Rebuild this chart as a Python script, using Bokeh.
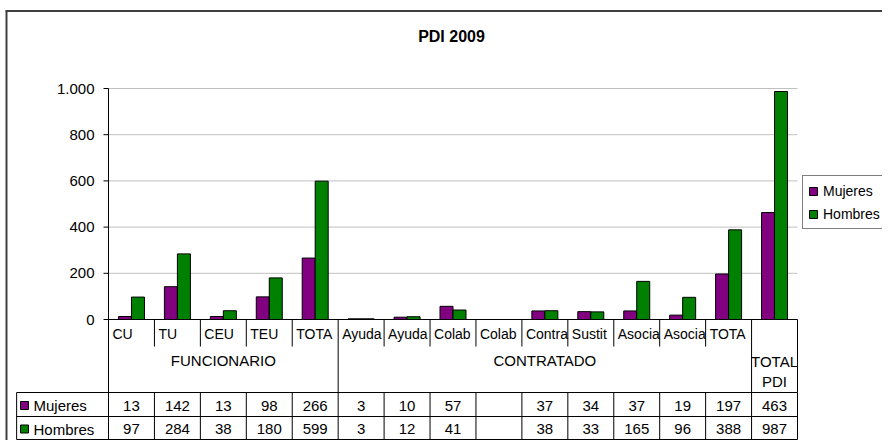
from bokeh.plotting import figure
from bokeh.models import Range1d, Legend, LegendItem, ColumnDataSource
from bokeh.embed import file_html
from bokeh.resources import INLINE
from bokeh.core.properties import value
from bokeh.transform import dodge

# ---------------- data ----------------
chart_title = "PDI 2009"
groups = ["FUNCIONARIO", "CONTRATADO", "TOTAL PDI"]
group_sizes = [5, 9, 1]
cat_labels = ["CU", "TU", "CEU", "TEU", "TOTA", "Ayuda", "Ayuda", "Colab", "Colab",
              "Contra", "Sustit", "Asocia", "Asocia", "TOTA", ""]
series_names = ["Mujeres", "Hombres"]
mujeres = [13, 142, 13, 98, 266, 3, 10, 57, None, 37, 34, 37, 19, 197, 463]
hombres = [97, 284, 38, 180, 599, 3, 12, 41, None, 38, 33, 165, 96, 388, 987]
y_ticks = [0, 200, 400, 600, 800, 1000]
y_tick_labels = ["0", "200", "400", "600", "800", "1.000"]
colors = ["#800080", "#008000"]

# ---------------- layout constants (pixels) ----------------
FONT = "Liberation Sans"
W, H = 882, 440
PLOT_L, PLOT_R = 108, 797      # plot area left / right
ZERO_Y, TOP_Y = 319, 88        # pixel rows of value 0 and of the top tick
n = len(cat_labels)
xu = (PLOT_R - PLOT_L) / n                    # px per category
vu = (ZERO_Y - TOP_Y) / y_ticks[-1]           # px per value unit

p = figure(width=W, height=H,
           x_range=Range1d(-PLOT_L / xu, (W - PLOT_L) / xu),
           y_range=Range1d((ZERO_Y - H) / vu, ZERO_Y / vu),
           x_axis_location=None, y_axis_location=None,
           output_backend="svg", toolbar_location=None, min_border=0)
p.extra_x_ranges = {"px": Range1d(0, W)}
p.extra_y_ranges = {"px": Range1d(H, 0)}
p.title.visible = False
p.grid.visible = False
p.outline_line_color = None
p.background_fill_color = "white"
p.border_fill_color = "white"

txt = dict(text_font=value(FONT), text_color="black")

# outer chart border (left / top)
p.segment(x0=[6, 5], y0=[10.5, 10.5], x1=[6, W], y1=[H, 10.5],
          x_range_name="px", y_range_name="px", line_color="#404040", line_width=2)

# title
p.text(x=[451], y=[36], text=[chart_title], x_range_name="px", y_range_name="px",
       text_font_size="16px", text_font_style="bold", text_align="center",
       text_baseline="middle", **txt)

# gridlines
p.segment(x0=0, x1=n, y0=y_ticks, y1=y_ticks, line_color="#c0c0c0", line_width=1)

# bars
src = ColumnDataSource(dict(
    x=[i + 0.5 for i in range(n)],
    m=[float("nan") if v is None else v for v in mujeres],
    h=[float("nan") if v is None else v for v in hombres],
))
bw = 13 / xu
rm = p.vbar(x=dodge("x", -bw / 2, range=p.x_range), top="m", width=bw, source=src,
            fill_color=colors[0], line_color="black", line_width=1)
rh = p.vbar(x=dodge("x", bw / 2, range=p.x_range), top="h", width=bw, source=src,
            fill_color=colors[1], line_color="black", line_width=1)

# y axis: line, ticks, labels
p.segment(x0=[0, 0], y0=[0, 0], x1=[0, n], y1=[y_ticks[-1], 0], line_color="black", line_width=1)
p.segment(x0=PLOT_L - 5, x1=PLOT_L, y0=y_ticks, y1=y_ticks, x_range_name="px",
          line_color="black", line_width=1)
p.text(x=[PLOT_L - 14] * len(y_ticks), y=y_ticks, text=y_tick_labels, x_range_name="px",
       text_font_size="15px", text_align="right", text_baseline="middle", **txt)

# ---------------- data table ----------------
CAT_B, GRP_B = 346, 392
ROW_LINES = [392, 416, 439]
ROW_TXT = [405, 428.5]

bounds = [0]
for s in group_sizes:
    bounds.append(bounds[-1] + s)

x0, y0, x1, y1 = [], [], [], []
for gi, s in enumerate(group_sizes):
    for k in range(1, s):
        xb = bounds[gi] + k
        x0 += [xb]; x1 += [xb]; y0 += [ZERO_Y]; y1 += [CAT_B]
for xb in bounds:
    x0 += [xb]; x1 += [xb]; y0 += [ZERO_Y]; y1 += [GRP_B]
for yy in ROW_LINES:
    x0 += [-2]; x1 += [n]; y0 += [yy]; y1 += [yy]
for xb in [-2] + list(range(0, n + 1)):
    x0 += [xb]; x1 += [xb]; y0 += [ROW_LINES[0]]; y1 += [ROW_LINES[-1]]
p.segment(x0=x0, y0=y0, x1=x1, y1=y1, y_range_name="px", line_color="black", line_width=1)

# category labels
p.text(x=[i + 4 / xu for i in range(n)], y=[333] * n, text=cat_labels, y_range_name="px",
       text_font_size="14px", text_align="left", text_baseline="middle", **txt)

# group labels
gx, gy, gt = [], [], []
for gi, g in enumerate(groups):
    gx.append((bounds[gi] + bounds[gi + 1]) / 2)
    if group_sizes[gi] == 1:
        gy.append(371); gt.append(g.replace(" ", "\n"))
    else:
        gy.append(360); gt.append(g)
p.text(x=gx, y=gy, text=gt, y_range_name="px", text_font_size="15px",
       text_align="center", text_baseline="middle", text_line_height=1.15, **txt)

# values
for vals, ry in zip([mujeres, hombres], ROW_TXT):
    tx = [i + 0.5 for i, v in enumerate(vals) if v is not None]
    tt = [str(v) for v in vals if v is not None]
    p.text(x=tx, y=[ry] * len(tx), text=tt, y_range_name="px", text_font_size="15px",
           text_align="center", text_baseline="middle", **txt)

# row headers
p.scatter(x=[24] * 2, y=ROW_TXT, x_range_name="px", y_range_name="px", marker="square",
          size=8, fill_color=colors, line_color="black", line_width=1)
p.text(x=[33] * 2, y=ROW_TXT, text=series_names, x_range_name="px", y_range_name="px",
       text_font_size="15px", text_align="left", text_baseline="middle", **txt)

# legend
legend = Legend(items=[LegendItem(label=series_names[0], renderers=[rm]),
                       LegendItem(label=series_names[1], renderers=[rh])],
                location=(802, H - 229), orientation="vertical",
                label_text_font=FONT, label_text_font_size="14px", label_text_color="black",
                label_height=19, glyph_height=10, glyph_width=10, spacing=4,
                padding=5, margin=0, label_standoff=5,
                border_line_color="black", border_line_width=1,
                background_fill_color="white", background_fill_alpha=1)
p.add_layout(legend)

open("out.html", "w").write(file_html(p, INLINE))
